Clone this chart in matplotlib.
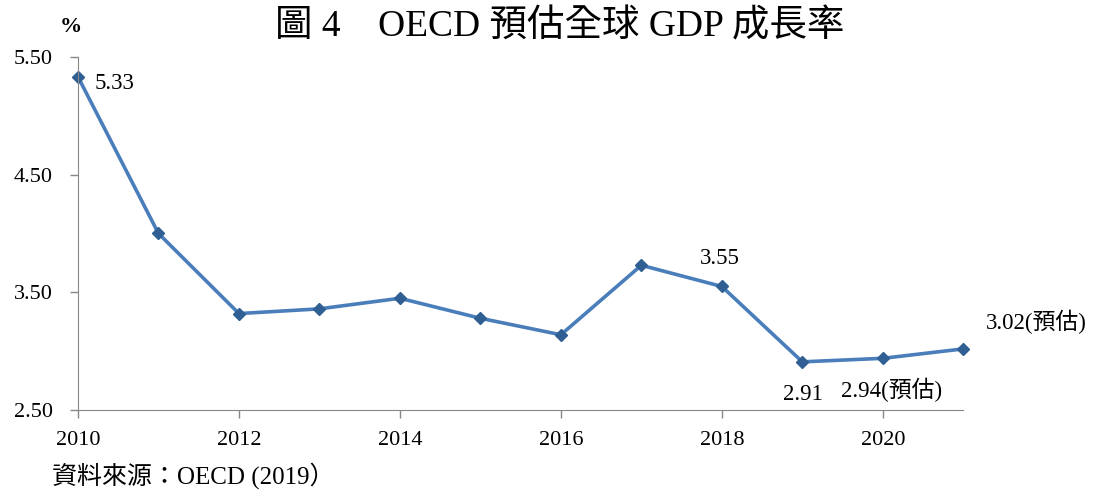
import matplotlib.pyplot as plt
import numpy as np

plt.rcParams['font.family'] = ['Liberation Serif', 'Noto Sans CJK TC']

years = [2010, 2011, 2012, 2013, 2014, 2015, 2016, 2017, 2018, 2019, 2020, 2021]
growth = [5.33, 4.00, 3.32, 3.36, 3.45, 3.28, 3.14, 3.73, 3.55, 2.91, 2.94, 3.02]
yticks = [2.50, 3.50, 4.50, 5.50]
xticks = [2010, 2012, 2014, 2016, 2018, 2020]

# labelled points: index, text, offset in pixels
labels = [(0, '5.33', (17, -7), 'left'),
          (8, '3.55', (-2, 28), 'center'),
          (9, '2.91', (1, -33), 'center'),
          (10, '2.94(預估)', (9, -32), 'center'),
          (11, '3.02(預估)', (73, 27), 'center')]

fig = plt.figure(figsize=(10.97, 4.9), dpi=100)
ax = fig.add_axes([0.0711, 0.163, 0.807, 0.721])

ax.plot(years, growth, color='#4A7EBB', lw=2.6, marker='D', markersize=6,
        markerfacecolor='#2F5F93', markeredgecolor='#2F5F93', clip_on=False)

for i, txt, off, ha in labels:
    ax.annotate(txt, xy=(years[i], growth[i]), xytext=off, textcoords='offset pixels',
                ha=ha, va='center', fontsize=16.5)

ax.set_xlim(2010, 2021)
ax.set_ylim(2.5, 5.5)
ax.set_xticks(xticks)
ax.set_yticks(yticks)
ax.set_yticklabels(['%.2f' % v for v in yticks])
ax.tick_params(labelsize=16, colors='#888888', labelcolor='black', length=6, width=1)
ax.tick_params(axis='y', pad=12)
ax.tick_params(axis='x', pad=9)
for s in ['top', 'right']:
    ax.spines[s].set_visible(False)
for s in ['left', 'bottom']:
    ax.spines[s].set_color('#888888')

fig.text(0.065, 0.945, '%', fontsize=16, fontweight='bold', ha='center', va='center')
fig.text(0.51, 0.945, '圖 4　OECD 預估全球 GDP 成長率', fontsize=27, ha='center', va='center')
fig.text(0.047, 0.03, '資料來源：OECD (2019）', fontsize=18, ha='left', va='center')

plt.savefig('out.png')
